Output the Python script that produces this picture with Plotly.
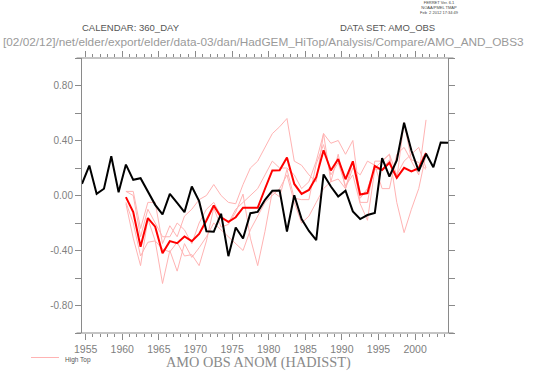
import plotly.graph_objects as go

# ---------------- data ----------------
years_obs = [1954.5 + i for i in range(51)]
amo_obs = [0.085, 0.218, 0.012, 0.049, 0.286, 0.024, 0.225, 0.114, 0.126, 0.024,
           -0.068, -0.138, 0.012, -0.053, -0.121, 0.065, -0.041, -0.260, -0.264, -0.133,
           -0.441, -0.233, -0.313, -0.129, -0.119, -0.031, 0.034, 0.036, -0.262, 0.002,
           -0.171, -0.258, -0.324, 0.153, 0.065, -0.007, 0.035, -0.116, -0.171, -0.142,
           -0.127, 0.271, 0.138, 0.255, 0.529, 0.327, 0.177, 0.303, 0.206, 0.385, 0.383]

years_model = [1960.5 + i for i in range(42)]
hightop_mean = [-0.012, -0.121, -0.373, -0.164, -0.227, -0.420, -0.332, -0.347, -0.298, -0.332,
                -0.279, -0.182, -0.073, -0.158, -0.191, -0.158, -0.089, -0.089, -0.089, 0.049,
                0.182, 0.184, 0.276, 0.084, 0.012, 0.040, 0.133, 0.329, 0.182, 0.265,
                0.118, 0.249, 0.007, 0.018, 0.214, 0.185, 0.238, 0.129, 0.201, 0.176,
                0.198, 0.309]

hightop_1 = [0.03, 0.03, -0.24, -0.05, -0.05, -0.35, -0.22, -0.30, -0.15, -0.10,
             -0.03, 0.00, 0.08, 0.00, -0.05, -0.06, 0.08, 0.20, 0.25, 0.35,
             0.45, 0.50, 0.56, 0.25, 0.22, 0.15, 0.10, 0.45, 0.38, 0.40,
             0.30, 0.40, -0.02, 0.05, 0.20, 0.25, 0.30, -0.05, -0.27, -0.10,
             0.05, 0.30]
hightop_2 = [-0.05, -0.20, -0.44, -0.34, -0.33, -0.64, -0.40, -0.55, -0.35, -0.45,
             -0.38, -0.30, -0.20, -0.25, -0.30, -0.35, -0.40, -0.25, -0.15, -0.05,
             0.00, 0.05, 0.15, -0.05, -0.20, -0.15, -0.05, 0.05, 0.10, 0.12,
             0.05, 0.20, 0.15, 0.25, 0.22, 0.05, 0.05, 0.30, 0.35, 0.25,
             0.15, 0.55]
hightop_3 = [0.03, 0.00, -0.30, -0.10, -0.20, -0.30, -0.30, -0.20, -0.25, -0.35,
             -0.20, -0.10, -0.05, -0.15, -0.20, -0.10, -0.05, 0.00, 0.05, 0.15,
             0.25, 0.20, 0.20, 0.15, 0.05, 0.10, 0.25, 0.45, 0.10, 0.30,
             0.05, 0.25, -0.05, -0.05, 0.25, 0.25, 0.30, 0.15, 0.25, 0.30,
             0.35, 0.20]
hightop_4 = [-0.06, -0.31, -0.51, -0.17, -0.33, -0.39, -0.41, -0.34, -0.44, -0.43,
             -0.51, -0.33, -0.09, -0.23, -0.21, -0.12, 0.01, -0.31, -0.51, -0.26,
             0.03, -0.01, 0.19, -0.02, -0.03, -0.03, 0.23, 0.37, 0.15, 0.24,
             0.07, 0.15, -0.06, -0.18, 0.19, 0.19, 0.26, 0.12, 0.53, 0.26,
             0.24, 0.19]

y_tickvals = [-1.0, -0.8, -0.6, -0.4, -0.2, 0.0, 0.2, 0.4, 0.6, 0.8, 1.0]
y_ticktext = ["", "-0.80", "", "-0.40", "", "0.00", "", "0.40", "", "0.80", ""]
x_tickvals = [1955, 1960, 1965, 1970, 1975, 1980, 1985, 1990, 1995, 2000]
x_ticktext = [str(v) for v in x_tickvals]

# ---------------- figure ----------------
W, H = 536, 377
ML, MR, MT, MB = 82, 88, 58, 44
PW, PH = W - ML - MR, H - MT - MB
AXC = "#8a8a8a"
PINK = "#ffb3b3"


def px(x):
    return (x - ML) / PW


def py(y):
    return (H - MB - y) / PH


fig = go.Figure()
for s in [hightop_1, hightop_2, hightop_3, hightop_4]:
    fig.add_trace(go.Scatter(x=years_model, y=s, mode="lines",
                             line=dict(color=PINK, width=1), showlegend=False))
fig.add_trace(go.Scatter(x=years_model, y=hightop_mean, mode="lines",
                         line=dict(color="#ff0000", width=2), showlegend=False))
fig.add_trace(go.Scatter(x=years_obs, y=amo_obs, mode="lines",
                         line=dict(color="#000000", width=2), showlegend=False))

fig.update_layout(
    width=W, height=H, margin=dict(l=ML, r=MR, t=MT, b=MB),
    paper_bgcolor="white", plot_bgcolor="white", showlegend=False,
    xaxis=dict(range=[1954.5, 2004.5], tickvals=x_tickvals, ticktext=x_ticktext,
               ticks="outside", ticklen=6, tickcolor=AXC, tickwidth=1,
               showline=False, mirror="ticks", showgrid=False, zeroline=False,
               tickfont=dict(family="Liberation Sans", size=10.5, color="#808080"),
               minor=dict(dtick=1, tick0=1954, ticks="outside", ticklen=3,
                          tickcolor=AXC, showgrid=False)),
    yaxis=dict(range=[-1, 1], tickvals=y_tickvals, ticktext=y_ticktext,
               ticks="outside", ticklen=6, tickcolor=AXC, tickwidth=1,
               showline=True, linecolor=AXC, linewidth=1, mirror="ticks",
               showgrid=False, zeroline=False,
               tickfont=dict(family="Liberation Sans", size=10, color="#808080")),
)

# horizontal frame lines extending past the vertical axes (Ferret style)
for yy in [0, 1]:
    fig.add_shape(type="line", xref="paper", yref="paper",
                  x0=px(76.5), x1=px(453.5), y0=yy, y1=yy,
                  line=dict(color=AXC, width=1))

# legend
fig.add_shape(type="line", xref="paper", yref="paper",
              x0=px(31), x1=px(59), y0=py(357.5), y1=py(357.5),
              line=dict(color=PINK, width=1))
fig.add_annotation(xref="paper", yref="paper", x=px(63), y=py(358),
                   text="High Top", showarrow=False, xanchor="left", yanchor="top",
                   yshift=4, font=dict(family="Liberation Sans", size=6.5, color="#555555"))

# title
fig.add_annotation(xref="paper", yref="paper", x=px(258), y=py(362),
                   text="AMO OBS ANOM (HADISST)", showarrow=False,
                   xanchor="center", yanchor="middle",
                   font=dict(family="Liberation Serif", size=14.3, color="#8a8a8a"))

# headers
fig.add_annotation(xref="paper", yref="paper", x=px(80), y=py(28),
                   text="CALENDAR: 360_DAY", showarrow=False, xanchor="left",
                   yanchor="middle",
                   font=dict(family="Liberation Sans", size=9.5, color="#555555"))
fig.add_annotation(xref="paper", yref="paper", x=px(437), y=py(28),
                   text="DATA SET: AMO_OBS", showarrow=False, xanchor="right",
                   yanchor="middle",
                   font=dict(family="Liberation Sans", size=9.5, color="#555555"))
fig.add_annotation(xref="paper", yref="paper", x=px(0.5), y=py(42),
                   text="[02/02/12]/net/elder/export/elder/data-03/dan/HadGEM_HiTop/Analysis/Compare/AMO_AND_OBS3",
                   showarrow=False, xanchor="left", yanchor="middle",
                   font=dict(family="Liberation Sans", size=11.8, color="#9a9a9a"))
fig.add_annotation(xref="paper", yref="paper", x=px(439), y=py(8),
                   text="FERRET Ver. 6.1<br>NOAA/PMEL TMAP<br>Feb  2 2012 17:34:49",
                   showarrow=False, xanchor="center", yanchor="middle",
                   font=dict(family="Liberation Sans", size=4, color="#444444"))

fig.write_html("out.html", config={"displayModeBar": False},
               post_script="document.body.style.margin='0';document.body.style.padding='0';")
